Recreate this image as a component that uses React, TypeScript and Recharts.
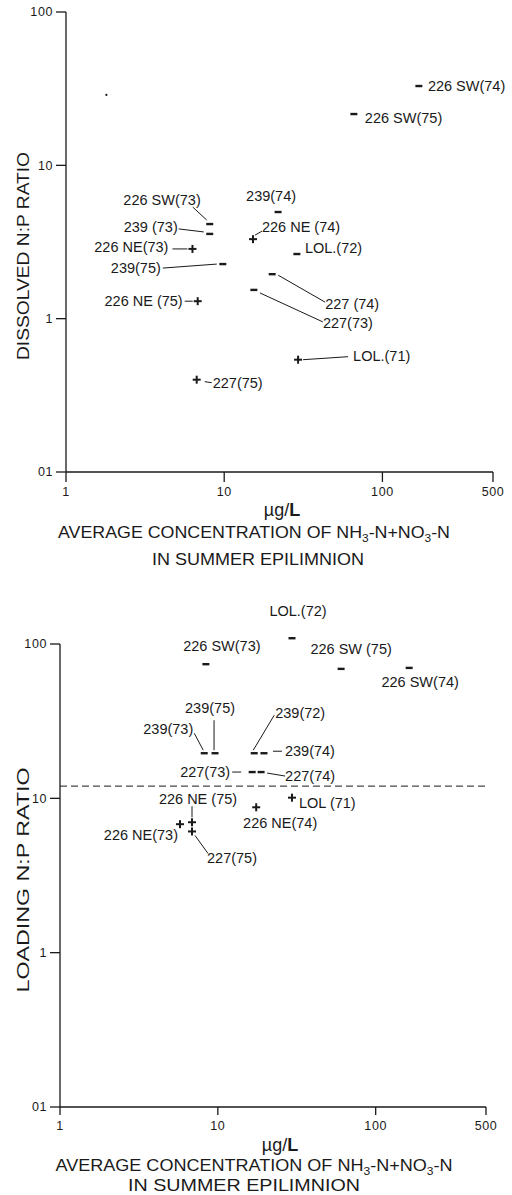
import React from 'react';
import { ScatterChart, Scatter, XAxis, YAxis, ReferenceLine, Label } from 'recharts';

const xTicks = [1, 10, 100, 500];
const yTicks = [0.1, 1, 10, 100];
const yTickText: Record<string, string> = { '0.1': '01', '1': '1', '10': '10', '100': '100' };

// upper panel: dissolved N:P ratio
const dissNames = ['226 SW(74)', '226 SW(75)', '226 SW(73)', '239 (73)', '226 NE(73)', '239(75)', '239(74)',
  '226 NE (74)', 'LOL.(72)', '227 (74)', '227(73)', '226 NE (75)', 'LOL.(71)', '227(75)'];
const dissConc = [170, 66, 8.1, 8.1, 6.3, 9.8, 21.9, 15.2, 28.8, 20.1, 15.4, 6.8, 29.3, 6.7];
const dissRatio = [32.9, 21.6, 4.14, 3.57, 2.85, 2.27, 4.96, 3.3, 2.64, 1.95, 1.54, 1.3, 0.54, 0.4];
const dissMark = ['dash', 'dash', 'dash', 'dash', 'plus', 'dash', 'dash', 'plus', 'dash', 'dash', 'dash', 'plus', 'plus', 'plus'];
const strayConc = [1.8];
const strayRatio = [28.8];

// lower panel: loading N:P ratio
const loadNames = ['LOL.(72)', '226 SW(73)', '226 SW (75)', '226 SW(74)', '239(73)', '239(75)', '239(72)', '239(74)',
  '227(73)', '227(74)', '226 NE (75)', '227(75)', '226 NE(73)', '226 NE(74)', 'LOL (71)'];
const loadConc = [29.5, 8.4, 60.4, 163, 8.2, 9.6, 17.0, 19.6, 16.5, 18.8, 6.86, 6.86, 5.76, 17.5, 29.5];
const loadRatio = [109, 74, 69, 70, 19.6, 19.6, 19.6, 19.6, 14.8, 14.8, 7.0, 6.1, 6.8, 8.75, 10.1];
const loadMark = ['dash', 'dash', 'dash', 'dash', 'dash', 'dash', 'dash', 'dash', 'dash', 'dash', 'plus', 'plus', 'plus', 'plus', 'plus'];
const loadCritical = 12;

// label placement relative to each mark: [dx, dy, anchor]
type Lab = [number, number, 'start' | 'middle' | 'end'];
type Lead = [number, number, number, number] | null;
const dissLabel: Lab[] = [
  [9, 0, 'start'], [11, 4, 'start'], [-9, -24, 'end'], [-32, -7, 'end'], [-24, -2, 'end'], [-62, 4, 'end'],
  [-7, -16, 'middle'], [9, -12, 'start'], [8, -6, 'start'], [53, 30, 'start'], [69, 33, 'start'],
  [-15, 0, 'end'], [55, -4, 'start'], [16, 3, 'start'],
];
const dissLeader: Lead[] = [
  null, null, [-17, -17, -3, -4], [-31, -5, -6, -2], [-20, 0, -5, 0], [-60, 4, -6, 0], null,
  [2, -4, 9, -8], null, [6, 1, 53, 28], [6, 3, 69, 32], [-13, 0, -5, 0], [5, 0, 50, -3], [8, 2, 15, 3],
];
const loadLabel: Lab[] = [
  [6, -27, 'middle'], [16, -18, 'middle'], [10, -20, 'middle'], [11, 14, 'middle'], [-11, -24, 'end'],
  [-5, -45, 'middle'], [21, -40, 'start'], [21, -2, 'start'], [-22, 0, 'end'], [24, 4, 'start'],
  [6, -23, 'middle'], [15, 27, 'start'], [-2, 11, 'end'], [24, 16, 'middle'], [7, 5, 'start'],
];
const loadLeader: Lead[] = [
  null, null, null, null, [-10, -20, -1, -3], [-1, -33, -1, -3], [20, -38, -1, -3], [9, -2, 18, -2],
  [-20, 0, -11, 0], [6, 1, 24, 4], [0, -16, 0, -5], [3, 4, 16, 22], null, null, null,
];

const INK = '#1a1a1a';
const FONT = '"Liberation Sans", Arial, sans-serif';

function build(names: string[], conc: number[], ratio: number[], mark: string[], lab: Lab[], lead: Lead[]) {
  return names.map((name, i) => ({ name, conc: conc[i], ratio: ratio[i], mark: mark[i], lab: lab[i], lead: lead[i] }));
}

const dissRows = build(dissNames, dissConc, dissRatio, dissMark, dissLabel, dissLeader);
const strayRows = strayConc.map((c, i) => ({ conc: c, ratio: strayRatio[i], mark: 'dot' }));
const loadRows = build(loadNames, loadConc, loadRatio, loadMark, loadLabel, loadLeader);

function Mark(props: any) {
  const { cx, cy, payload } = props;
  if (cx == null || cy == null || !payload) return null;
  const m = payload.mark;
  return (
    <g>
      {m === 'plus' && (
        <g stroke={INK} strokeWidth={2}>
          <line x1={cx - 4} y1={cy} x2={cx + 4} y2={cy} />
          <line x1={cx} y1={cy - 4} x2={cx} y2={cy + 4} />
        </g>
      )}
      {m === 'dash' && <line x1={cx - 3.5} y1={cy} x2={cx + 3.5} y2={cy} stroke={INK} strokeWidth={2.4} />}
      {m === 'dot' && <circle cx={cx} cy={cy} r={1.1} fill={INK} />}
      {payload.lead && (
        <line x1={cx + payload.lead[0]} y1={cy + payload.lead[1]} x2={cx + payload.lead[2]} y2={cy + payload.lead[3]}
          stroke={INK} strokeWidth={1} />
      )}
      {payload.name && (
        <text x={cx + payload.lab[0]} y={cy + payload.lab[1]} textAnchor={payload.lab[2]} dominantBaseline="central"
          fontSize={14.5} fontFamily={FONT} fill={INK} style={{ whiteSpace: 'pre' }}>
          {payload.name}
        </text>
      )}
    </g>
  );
}

function Titles({ yTitle, yc, yLen, unitX, unitY, l1X, l1Y, l1Len, l2X, l2Y, l2Len }: any) {
  return (
    <g fill={INK} fontFamily={FONT} style={{ whiteSpace: 'pre' }}>
      <text transform={`translate(23,${yc}) rotate(-90)`} textAnchor="middle" dominantBaseline="central"
        fontSize={17} textLength={yLen} lengthAdjust="spacingAndGlyphs">{yTitle}</text>
      <text x={unitX} y={unitY + 6} textAnchor="middle" fontSize={18}>
        µg/<tspan fontWeight="bold">L</tspan>
      </text>
      <text x={l1X} y={l1Y + 6} textAnchor="middle" fontSize={16.5} textLength={l1Len} lengthAdjust="spacingAndGlyphs">
        AVERAGE  CONCENTRATION OF NH<tspan dy={4} fontSize={11}>3</tspan><tspan dy={-4}>-N+NO</tspan>
        <tspan dy={4} fontSize={11}>3</tspan><tspan dy={-4}>-N</tspan>
      </text>
      <text x={l2X} y={l2Y + 6} textAnchor="middle" fontSize={16.5} textLength={l2Len} lengthAdjust="spacingAndGlyphs">
        IN  SUMMER  EPILIMNION
      </text>
    </g>
  );
}

const axisStroke = { stroke: INK, strokeWidth: 1.3 };
const tickStyle = { fontSize: 12.5, fill: INK, fontFamily: FONT, letterSpacing: 0.6 };

export default function App() {
  return (
    <div style={{ position: 'absolute', left: 0, top: 0, width: 512, height: 1195, background: '#fff' }}>
      <style>{`.recharts-wrapper g[clip-path] { clip-path: none !important; }`}</style>
      <ScatterChart width={512} height={580} margin={{ top: 12, right: 19, bottom: 78, left: 6 }}>
        <XAxis type="number" dataKey="conc" scale="log" domain={[1, 500]} ticks={xTicks} allowDataOverflow
          tickFormatter={(v) => String(v)} tickSize={10} tickMargin={5} height={30}
          axisLine={axisStroke} tickLine={axisStroke} tick={tickStyle}>
          <Label content={() => (
            <Titles yTitle="DISSOLVED  N:P  RATIO" yc={256} yLen={208} unitX={282} unitY={510}
              l1X={254} l1Y={532} l1Len={392} l2X={258} l2Y={559} l2Len={212} />
          )} />
        </XAxis>
        <YAxis type="number" dataKey="ratio" scale="log" domain={[0.1, 100]} ticks={yTicks} allowDataOverflow
          tickFormatter={(v) => yTickText[String(v)] ?? String(v)} tickSize={10} tickMargin={3} width={60}
          axisLine={axisStroke} tickLine={axisStroke} tick={tickStyle} />
        <Scatter data={dissRows} shape={Mark} isAnimationActive={false} />
        <Scatter data={strayRows} shape={Mark} isAnimationActive={false} />
      </ScatterChart>

      <ScatterChart width={512} height={615} margin={{ top: 64, right: 26, bottom: 58, left: 0 }}>
        <XAxis type="number" dataKey="conc" scale="log" domain={[1, 500]} ticks={xTicks} allowDataOverflow
          tickFormatter={(v) => String(v)} tickSize={8} tickMargin={6} height={30}
          axisLine={axisStroke} tickLine={axisStroke} tick={tickStyle}>
          <Label content={() => (
            <Titles yTitle="LOADING  N:P  RATIO" yc={300} yLen={225} unitX={280} unitY={565}
              l1X={254} l1Y={585} l1Len={397} l2X={244} l2Y={605} l2Len={232} />
          )} />
        </XAxis>
        <YAxis type="number" dataKey="ratio" scale="log" domain={[0.1, 100]} ticks={yTicks} allowDataOverflow
          tickFormatter={(v) => yTickText[String(v)] ?? String(v)} tickSize={10} tickMargin={3} width={60}
          axisLine={axisStroke} tickLine={axisStroke} tick={tickStyle} />
        <ReferenceLine y={loadCritical} stroke={INK} strokeWidth={1} strokeDasharray="7 4" />
        <Scatter data={loadRows} shape={Mark} isAnimationActive={false} />
      </ScatterChart>
    </div>
  );
}
